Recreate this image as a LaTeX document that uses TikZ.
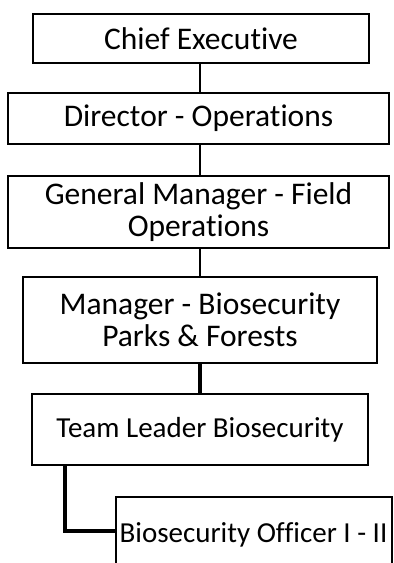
\documentclass[tikz,border=0pt]{standalone}
\usepackage{fontspec}
\setmainfont[Ligatures=NoCommon]{Carlito}
\usetikzlibrary{calc,positioning}
\tikzset{
  post/.style={draw=black, line width=2pt, fill=white, align=center, inner sep=0pt,
    font=\fontsize{31.5}{32}\selectfont},
  small post/.style={post, font=\fontsize{29}{32}\selectfont},
  link/.style={draw=black, line width=2pt},
  boldlink/.style={draw=black, line width=4.5pt}
}

\begin{document}
\begin{tikzpicture}[x=1pt,y=-1pt]
  \useasboundingbox (0,0) rectangle (394,563);
  \clip (0,0) rectangle (394,563);
  \node[post, minimum width=336, minimum height=49] (ce) at (201,38.5) {Chief Executive};
  \node[post, minimum width=381, minimum height=51] (dir) at (198.5,118.5) {Director - Operations};
  \node[post, minimum width=381, minimum height=72] (gm) at (198.5,212) {General Manager - Field\\Operations};
  \node[post, minimum width=354, minimum height=86] (mb) at (200,320) {Manager - Biosecurity\\Parks \& Forests};
  \node[small post, minimum width=336, minimum height=71] (tl) at (200,429.5) {Team Leader Biosecurity};
  \node[small post, minimum width=276, minimum height=76] (bo) at (253.5,535) {Biosecurity Officer I - II};
  % reporting lines
  \draw[link] (ce.south -| 200,0) -- (dir.north -| 200,0);
  \draw[link] (dir.south -| 200,0) -- (gm.north -| 200,0);
  \draw[link] (gm.south -| 200,0) -- (mb.north -| 200,0);
  \draw[boldlink] (mb.south) -- (tl.north);
  \draw[boldlink] ($(tl.south west)!0.1!(tl.south east)$) |- ($(bo.north west)+(0,35)$);
\end{tikzpicture}
\end{document}
